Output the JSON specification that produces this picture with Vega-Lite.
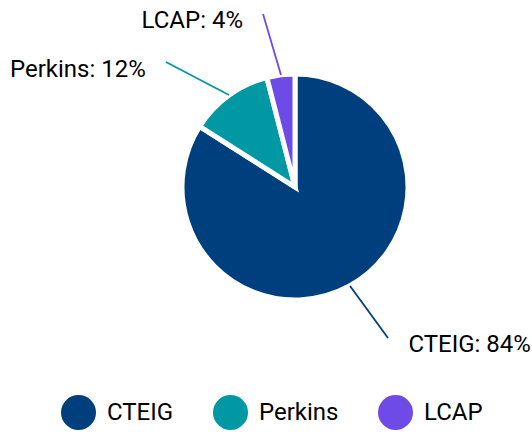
{
  "$schema": "https://vega.github.io/schema/vega-lite/v6.json",
  "width": 532,
  "height": 374,
  "padding": 0,
  "autosize": {"type": "pad"},
  "config": {"view": {"stroke": null}, "font": "Roboto"},
  "datasets": {
    "shares": [
      {"source": "CTEIG", "pct": 84, "rank": 1},
      {"source": "Perkins", "pct": 12, "rank": 2},
      {"source": "LCAP", "pct": 4, "rank": 3}
    ],
    "callouts": [
      {"source": "CTEIG", "innerX": 0.487, "innerY": -0.876, "outerX": 0.823, "outerY": -1.336, "labelX": 1.004, "labelY": -1.46, "label": "CTEIG: 84%"},
      {"source": "Perkins", "innerX": -0.584, "innerY": 0.814, "outerX": -1.142, "outerY": 1.106, "labelX": -2.522, "labelY": 0.973, "label": "Perkins: 12%"},
      {"source": "LCAP", "innerX": -0.124, "innerY": 0.991, "outerX": -0.283, "outerY": 1.531, "labelX": -1.358, "labelY": 1.404, "label": "LCAP: 4%"}
    ]
  },
  "layer": [
    {
      "data": {"name": "shares"},
      "mark": {"type": "arc", "outerRadius": 113, "stroke": "white", "strokeWidth": 5},
      "encoding": {
        "x": {"datum": 0, "type": "quantitative", "scale": {"domain": [-2.6106, 2.0973], "nice": false, "zero": false}, "axis": null},
        "y": {"datum": 0, "type": "quantitative", "scale": {"domain": [-1.6549, 1.6549], "nice": false, "zero": false}, "axis": null},
        "theta": {"field": "pct", "type": "quantitative", "stack": true},
        "order": {"field": "rank", "type": "quantitative"},
        "color": {
          "field": "source",
          "type": "nominal",
          "scale": {"domain": ["CTEIG", "Perkins", "LCAP"], "range": ["#003F7E", "#0098A3", "#6E4BE7"]},
          "legend": {
            "title": null,
            "orient": "none",
            "direction": "horizontal",
            "legendX": 61,
            "legendY": 395,
            "padding": 0,
            "symbolType": "circle",
            "symbolSize": 1225,
            "symbolStrokeWidth": 0,
            "labelFontSize": 24,
            "labelFont": "Roboto",
            "labelColor": "#000",
            "labelOffset": 11,
            "columnPadding": 39
          }
        }
      }
    },
    {
      "data": {"name": "callouts"},
      "mark": {"type": "rule", "strokeWidth": 1.8},
      "encoding": {
        "x": {"field": "innerX", "type": "quantitative"},
        "y": {"field": "innerY", "type": "quantitative"},
        "x2": {"field": "outerX"},
        "y2": {"field": "outerY"},
        "stroke": {
          "field": "source",
          "type": "nominal",
          "scale": {"domain": ["CTEIG", "Perkins", "LCAP"], "range": ["#003F7E", "#0098A3", "#6E4BE7"]},
          "legend": null
        }
      }
    },
    {
      "data": {"name": "callouts"},
      "mark": {"type": "text", "align": "left", "baseline": "alphabetic", "fontSize": 24, "font": "Roboto", "fill": "#000"},
      "encoding": {
        "x": {"field": "labelX", "type": "quantitative"},
        "y": {"field": "labelY", "type": "quantitative"},
        "text": {"field": "label"}
      }
    }
  ]
}
